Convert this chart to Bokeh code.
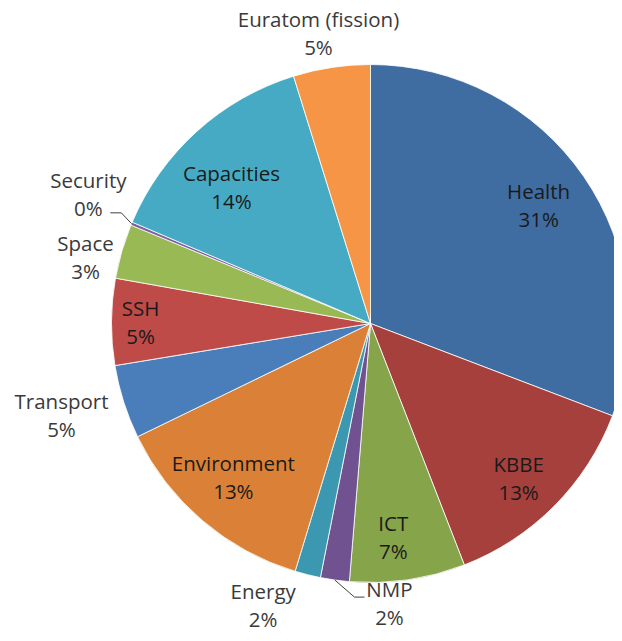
import math
from bokeh.plotting import figure
from bokeh.models import Range1d, ColumnDataSource
from bokeh.core.properties import value
from bokeh.embed import file_html
from bokeh.resources import INLINE

# ---- data ----
names = ["Health", "KBBE", "ICT", "NMP", "Energy", "Environment", "Transport",
         "SSH", "Space", "Security", "Capacities", "Euratom (fission)"]
shares = [30.8, 13.3, 7.2, 1.8, 1.6, 13.1, 4.6, 5.4, 3.4, 0.2, 13.8, 4.8]
pct_labels = ["31%", "13%", "7%", "2%", "2%", "13%", "5%", "5%", "3%", "0%", "14%", "5%"]

colors = ["#3F6CA1", "#A5403D", "#86A44A", "#6F528F", "#3C98B0", "#DA8137",
          "#4A7EBB", "#BE4B48", "#98B954", "#7D60A0", "#46AAC5", "#F69546"]

# label layout: radial factor (of radius) and angular nudge (deg) per slice
lab_factor = [0.795, 0.825, 0.83, 1.082, 1.165, 0.796, 1.244, 0.888, 1.13, 1.199, 0.751, 1.141]
lab_shift = [-0.7, 1.3, 2.2, -11.8, 6.8, 1.2, 1.2, 0.0, -3.0, 2.0, -3.5, -1.5]
outside = [False, False, False, True, True, False, True, False, True, True, False, True]

W, H = 614, 633
CX, CY, R = 370, -323, 259   # picture pixel coords, y negated

p = figure(width=W, height=H, output_backend="svg", toolbar_location=None,
           x_range=Range1d(0, W), y_range=Range1d(-H, 0),
           min_border=0, outline_line_color=None)
p.axis.visible = False
p.grid.visible = False
p.background_fill_color = "white"
p.border_fill_color = "white"

total = sum(shares)
starts, ends, mids = [], [], []
cum = 0.0
for s in shares:
    f0 = cum / total
    cum += s
    f1 = cum / total
    starts.append(math.pi / 2 - 2 * math.pi * f0)
    ends.append(math.pi / 2 - 2 * math.pi * f1)
    mids.append(360.0 * (f0 + f1) / 2)

src = ColumnDataSource(dict(start=starts, end=ends, color=colors, name=names))
p.wedge(x=CX, y=CY, radius=R, start_angle="start", end_angle="end",
        direction="clock", fill_color="color", line_color="white",
        line_width=0.8, source=src)

lx, ly, ncol = [], [], []
for i in range(len(names)):
    th = math.radians(mids[i] + lab_shift[i])
    r = R * lab_factor[i]
    lx.append(CX + r * math.sin(th))
    ly.append(CY + r * math.cos(th))
    ncol.append("#3a3a3a" if outside[i] else "#1a1a1a")

font = value("Open Sans")
fs = "20.5px"
p.text(x=lx, y=[y + 14 for y in ly], text=names, text_align="center",
       text_baseline="middle", text_font=font, text_font_size=fs, text_color=ncol)
p.text(x=lx, y=[y - 14 for y in ly], text=pct_labels, text_align="center",
       text_baseline="middle", text_font=font, text_font_size=fs, text_color=ncol)

# leader lines for the two thin slices (Security, NMP)
def edge_pt(i):
    th = math.radians(mids[i])
    return CX + R * math.sin(th), CY + R * math.cos(th)

sec = names.index("Security")
ex, ey = edge_pt(sec)
p.line([ex, lx[sec] + 33, lx[sec] + 22], [ey, ly[sec] - 19, ly[sec] - 19],
       line_color="#404040", line_width=1)
nmp = names.index("NMP")
ex, ey = edge_pt(nmp)
p.line([ex, lx[nmp] - 35, lx[nmp] - 25], [ey, ly[nmp] + 6, ly[nmp] + 6],
       line_color="#404040", line_width=1)

open("out.html", "w").write(file_html(p, INLINE))
